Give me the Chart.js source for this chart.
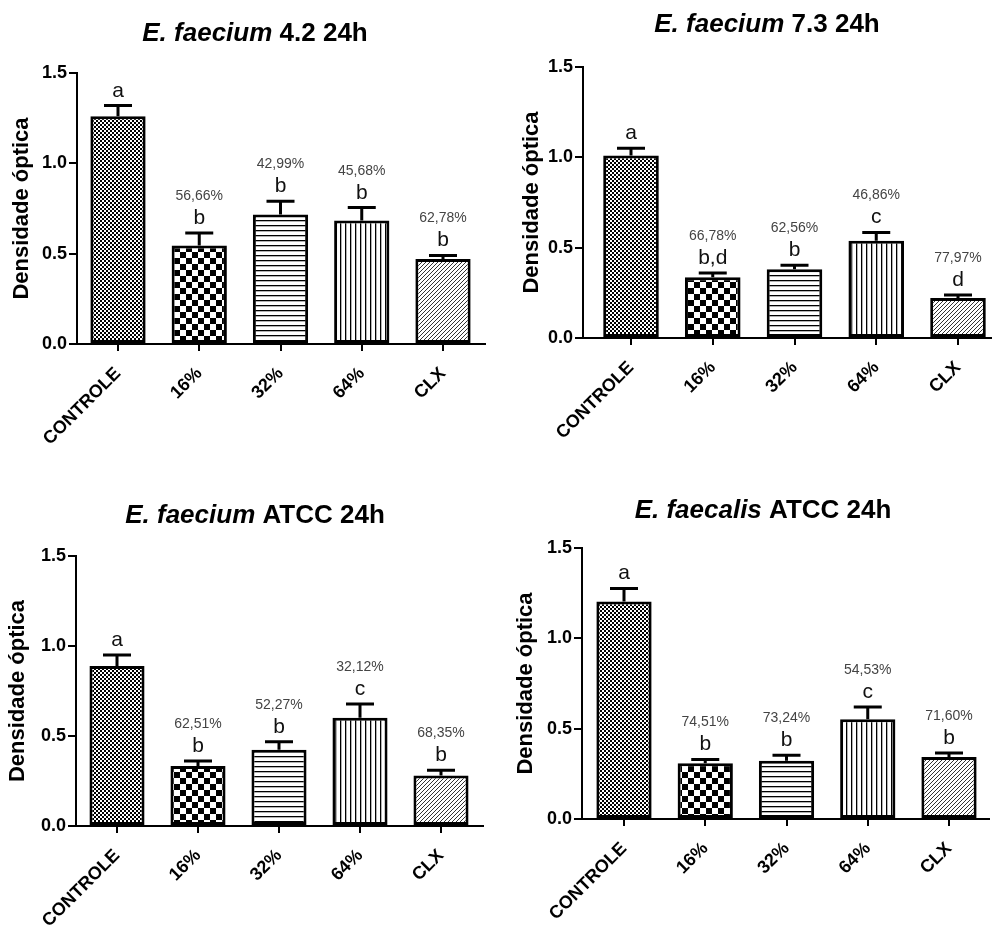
<!DOCTYPE html>
<html><head><meta charset="utf-8">
<script src="https://cdn.jsdelivr.net/npm/chart.js@4.4.1/dist/chart.umd.min.js"></script>
<style>
html,body{margin:0;padding:0;background:#fff;overflow:hidden;width:992px;height:932px}
#wrap{position:relative;width:992px;height:932px;overflow:hidden;background:#fff}
canvas{position:absolute}
</style></head><body><div id="wrap">
<canvas id="c1" width="496" height="466" style="left:0;top:0"></canvas>
<canvas id="c2" width="510" height="466" style="left:496px;top:0"></canvas>
<canvas id="c3" width="496" height="466" style="left:0;top:466px"></canvas>
<canvas id="c4" width="496" height="466" style="left:496px;top:466px"></canvas>
</div>
<script>
// ---- data ----
const categories = ['CONTROLE', '16%', '32%', '64%', 'CLX'];
const yTickValues = [0, 0.5, 1.0, 1.5];
const yAxisLabel = 'Densidade óptica';

const title1Italic = 'E. faecium', title1Rest = ' 4.2 24h';
const means1 = [1.26, 0.545, 0.717, 0.683, 0.47];
const sems1 = [0.06, 0.07, 0.073, 0.072, 0.02];
const letters1 = ['a', 'b', 'b', 'b', 'b'];
const reductions1 = ['', '56,66%', '42,99%', '45,68%', '62,78%'];

const title2Italic = 'E. faecium', title2Rest = ' 7.3 24h';
const means2 = [1.01, 0.336, 0.38, 0.538, 0.222];
const sems2 = [0.04, 0.024, 0.022, 0.046, 0.016];
const letters2 = ['a', 'b,d', 'b', 'c', 'd'];
const reductions2 = ['', '66,78%', '62,56%', '46,86%', '77,97%'];

const title3Italic = 'E. faecium', title3Rest = ' ATCC 24h';
const means3 = [0.889, 0.333, 0.423, 0.602, 0.28];
const sems3 = [0.061, 0.028, 0.045, 0.076, 0.03];
const letters3 = ['a', 'b', 'b', 'c', 'b'];
const reductions3 = ['', '62,51%', '52,27%', '32,12%', '68,35%'];

const title4Italic = 'E. faecalis', title4Rest = ' ATCC 24h';
const means4 = [1.204, 0.308, 0.323, 0.552, 0.343];
const sems4 = [0.072, 0.022, 0.03, 0.068, 0.022];
const letters4 = ['a', 'b', 'b', 'c', 'b'];
const reductions4 = ['', '74,51%', '73,24%', '54,53%', '71,60%'];

// ---- layout (canvas-local pixels) ----
const FONT = '"Liberation Sans", Arial, Helvetica, sans-serif';
const layouts = {
  c1: {w:496, h:466, padL:0,  axisL:77, top:73, bottom:344, right:485, c0:118, sp:81.25, tx:255, ty:32, yt:22},
  c2: {w:510, h:466, padL:14, axisL:87, top:67, bottom:338, right:504, c0:135, sp:81.75, tx:271, ty:23, yt:36},
  c3: {w:496, h:466, padL:0,  axisL:76, top:90, bottom:360, right:483, c0:117, sp:81,    tx:255, ty:48, yt:18},
  c4: {w:496, h:466, padL:8,  axisL:86, top:82, bottom:353, right:493, c0:128, sp:81.25, tx:267, ty:43, yt:30}
};

function tile(w, h, draw) {
  const c = document.createElement('canvas'); c.width = w; c.height = h;
  const g = c.getContext('2d');
  g.fillStyle = '#fff'; g.fillRect(0, 0, w, h);
  g.fillStyle = '#000'; g.strokeStyle = '#000';
  draw(g); return c;
}
function makePatterns(ctx) {
  const tiles = [
    tile(4, 4, g => { g.fillRect(0, 0, 2, 2); g.fillRect(2, 2, 2, 2); }),
    tile(12, 12, g => { g.fillRect(0, 0, 6, 6); g.fillRect(6, 6, 6, 6); }),
    tile(5, 5, g => { g.fillRect(0, 0, 5, 1.3); }),
    tile(5, 5, g => { g.fillRect(0, 0, 1.3, 5); }),
    tile(4, 4, g => { g.strokeStyle = '#333'; g.lineWidth = 1; g.beginPath();
      g.moveTo(0, 4); g.lineTo(4, 0); g.moveTo(-1, 1); g.lineTo(1, -1); g.moveTo(3, 5); g.lineTo(5, 3); g.stroke(); })
  ];
  return tiles.map(t => ctx.createPattern(t, 'repeat'));
}

function makeChart(id, titleIt, titleRest, means, sems, letters, reductions) {
  const L = layouts[id];
  const canvas = document.getElementById(id);
  const ctx = canvas.getContext('2d');
  const xmin = -(L.c0 - L.axisL) / L.sp;
  const xmax = (L.right - L.c0) / L.sp;
  const annot = {
    id: 'annot' + id,
    afterDatasetsDraw(chart) {
      const c = chart.ctx, xs = chart.scales.x, ys = chart.scales.y;
      c.save();
      c.strokeStyle = '#000'; c.lineWidth = 3;
      means.forEach((m, i) => {
        const px = xs.getPixelForValue(i);
        const base = ys.getPixelForValue(m);
        const top = ys.getPixelForValue(m + sems[i]);
        c.beginPath();
        c.moveTo(px, base); c.lineTo(px, top);
        c.moveTo(px - 14, top); c.lineTo(px + 14, top);
        c.stroke();
        c.textAlign = 'center'; c.textBaseline = 'alphabetic';
        c.fillStyle = '#111'; c.font = '21px ' + FONT;
        c.fillText(letters[i], px, top - 9);
        if (reductions[i]) {
          c.fillStyle = '#444'; c.font = '14px ' + FONT;
          c.fillText(reductions[i], px, top - 33);
        }
      });
      // title
      c.fillStyle = '#000'; c.textBaseline = 'alphabetic'; c.textAlign = 'left';
      c.font = 'italic bold 26px ' + FONT;
      const w1 = c.measureText(titleIt).width;
      c.font = 'bold 26px ' + FONT;
      const w2 = c.measureText(titleRest).width;
      const x0 = L.tx - (w1 + w2) / 2;
      c.font = 'italic bold 26px ' + FONT;
      c.fillText(titleIt, x0, L.ty + 9);
      c.font = 'bold 26px ' + FONT;
      c.fillText(titleRest, x0 + w1, L.ty + 9);
      c.restore();
    }
  };
  return new Chart(ctx, {
    type: 'bar',
    data: {
      datasets: [{
        data: means.map((v, i) => ({x: i, y: v})),
        backgroundColor: makePatterns(ctx),
        borderColor: '#000',
        borderWidth: 3,
        borderSkipped: false,
        barPercentage: 0.68,
        categoryPercentage: 1
      }]
    },
    options: {
      responsive: false, animation: false, devicePixelRatio: 1,
      layout: {padding: {left: L.padL, top: L.top, right: L.w - L.right, bottom: 0}},
      plugins: {legend: {display: false}, tooltip: {enabled: false}, title: {display: false}},
      scales: {
        x: {
          type: 'linear', min: xmin, max: xmax, offset: false,
          afterBuildTicks: s => { s.ticks = categories.map((c, i) => ({value: i})); },
          afterFit: s => { s.height = L.h - L.bottom; },
          ticks: {
            callback: v => categories[v], autoSkip: false, maxRotation: 45, minRotation: 45,
            padding: 12, color: '#000', font: {family: FONT, size: 18, weight: 'bold'}
          },
          grid: {offset: false, drawOnChartArea: false, drawTicks: true, tickLength: 7, color: '#000', lineWidth: 2},
          border: {display: true, color: '#000', width: 2}
        },
        y: {
          min: 0, max: 1.5,
          afterBuildTicks: s => { s.ticks = yTickValues.map(v => ({value: v})); },
          afterFit: s => { s.width = L.axisL - L.padL; },
          ticks: {
            callback: v => Number(v).toFixed(1), padding: 2, color: '#000',
            font: {family: FONT, size: 18, weight: 'bold'}
          },
          grid: {drawOnChartArea: false, drawTicks: true, tickLength: 8, color: '#000', lineWidth: 2},
          border: {display: true, color: '#000', width: 2},
          title: {
            display: true, text: yAxisLabel, color: '#000',
            font: {family: FONT, size: 22, weight: 'bold', lineHeight: 1.2},
            padding: {top: Math.max(L.yt - L.padL - 13, 0), bottom: 0}
          }
        }
      }
    },
    plugins: [annot]
  });
}

makeChart('c1', title1Italic, title1Rest, means1, sems1, letters1, reductions1);
makeChart('c2', title2Italic, title2Rest, means2, sems2, letters2, reductions2);
makeChart('c3', title3Italic, title3Rest, means3, sems3, letters3, reductions3);
makeChart('c4', title4Italic, title4Rest, means4, sems4, letters4, reductions4);
</script>
</body></html>
